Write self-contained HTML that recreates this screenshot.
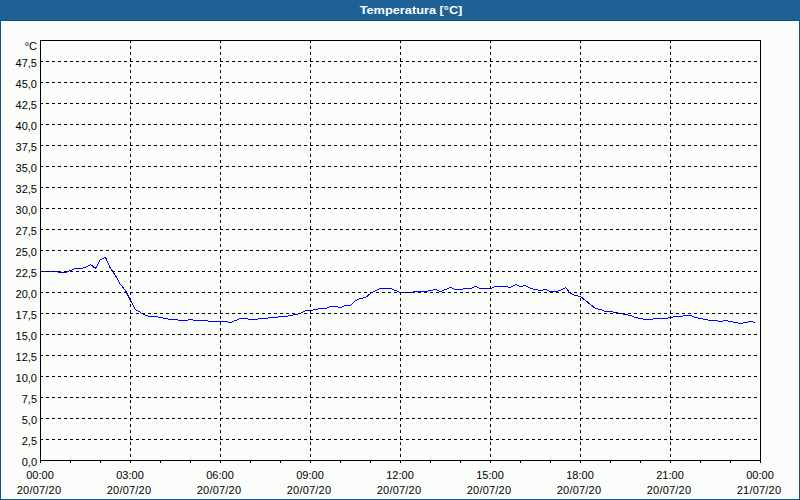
<!DOCTYPE html>
<html><head><meta charset="utf-8"><style>
html,body{margin:0;padding:0;}
body{width:800px;height:500px;overflow:hidden;background:#fbfdfb;position:relative;font-family:"Liberation Sans",sans-serif;font-size:11px;color:#000;}
#hdr{position:absolute;left:0;top:0;}
#ttl{position:absolute;left:0;top:0;width:822px;height:20px;line-height:20px;text-align:center;color:#fff;font-weight:bold;font-size:11px;transform:scaleX(1.16);transform-origin:411px 0;}
#frame{position:absolute;left:0;top:20px;width:798px;height:478px;border:1px solid #0e528c;}
.yl{position:absolute;right:763px;white-space:nowrap;line-height:13px;}
.xl{position:absolute;width:80px;text-align:center;line-height:15px;}
.dt{position:relative;left:-1px;letter-spacing:0.2px;}
svg{position:absolute;left:0;top:0;}
</style></head><body>
<svg id="hdr" width="800" height="20" shape-rendering="crispEdges"><defs><pattern id="dp" width="8" height="20" patternUnits="userSpaceOnUse"><g fill="#1f5fab"><rect x="0" y="0" width="1" height="1"/><rect x="4" y="1" width="1" height="1"/><rect x="2" y="2" width="1" height="1"/><rect x="7" y="2" width="1" height="1"/><rect x="3" y="4" width="1" height="1"/><rect x="0" y="5" width="1" height="1"/><rect x="5" y="5" width="1" height="1"/><rect x="3" y="7" width="1" height="1"/><rect x="7" y="8" width="1" height="1"/><rect x="1" y="9" width="1" height="1"/><rect x="5" y="9" width="1" height="1"/><rect x="0" y="11" width="1" height="1"/><rect x="4" y="11" width="1" height="1"/><rect x="2" y="13" width="1" height="1"/><rect x="6" y="13" width="1" height="1"/><rect x="1" y="15" width="1" height="1"/><rect x="5" y="15" width="1" height="1"/><rect x="0" y="17" width="1" height="1"/><rect x="4" y="17" width="1" height="1"/><rect x="2" y="19" width="1" height="1"/><rect x="6" y="19" width="1" height="1"/></g></pattern></defs><rect width="800" height="20" fill="#1d6293"/><rect width="800" height="20" fill="url(#dp)"/></svg><div id="ttl">Temperatura [°C]</div><div id="frame"></div>

<svg width="800" height="500" viewBox="0 0 800 500" shape-rendering="crispEdges">
<polyline points="40.5,271.5 45.5,271.5 50.5,271.5 55.5,271.5 60.5,272.5 65.5,272.5 70.5,270.5 75.5,268.5 80.5,268.5 85.5,267.5 90.5,264.5 95.5,268.5 100.5,259.5 105.5,257.5 110.5,268.5 115.5,275.5 120.5,284.5 125.5,290.5 130.5,300.5 135.5,309.5 140.5,312.5 145.5,315.5 150.5,316.5 155.5,316.5 160.5,317.5 165.5,318.5 170.5,319.5 175.5,319.5 180.5,320.5 185.5,320.5 190.5,319.5 195.5,320.5 200.5,320.5 205.5,320.5 210.5,321.5 215.5,321.5 220.5,321.5 225.5,321.5 230.5,322.5 235.5,320.5 240.5,318.5 245.5,318.5 250.5,319.5 255.5,319.5 260.5,318.5 265.5,318.5 270.5,317.5 275.5,317.5 280.5,316.5 285.5,316.5 290.5,315.5 295.5,314.5 300.5,313.5 305.5,310.5 310.5,310.5 315.5,309.5 320.5,308.5 325.5,308.5 330.5,306.5 335.5,306.5 340.5,307.5 345.5,305.5 350.5,305.5 355.5,300.5 360.5,298.5 365.5,297.5 370.5,293.5 375.5,290.5 380.5,288.5 385.5,288.5 390.5,288.5 395.5,290.5 400.5,292.5 405.5,292.5 410.5,292.5 415.5,291.5 420.5,291.5 425.5,291.5 430.5,290.5 435.5,289.5 440.5,291.5 445.5,289.5 450.5,287.5 455.5,289.5 460.5,289.5 465.5,288.5 470.5,288.5 475.5,286.5 480.5,288.5 485.5,288.5 490.5,288.5 495.5,286.5 500.5,286.5 505.5,286.5 510.5,287.5 515.5,284.5 520.5,286.5 525.5,285.5 530.5,288.5 535.5,289.5 540.5,290.5 545.5,289.5 550.5,291.5 555.5,291.5 560.5,290.5 565.5,287.5 570.5,293.5 575.5,295.5 580.5,296.5 585.5,300.5 590.5,304.5 595.5,308.5 600.5,309.5 605.5,311.5 610.5,311.5 615.5,312.5 620.5,313.5 625.5,314.5 630.5,315.5 635.5,317.5 640.5,318.5 645.5,319.5 650.5,319.5 655.5,318.5 660.5,318.5 665.5,318.5 670.5,317.5 675.5,316.5 680.5,316.5 685.5,315.5 690.5,315.5 695.5,317.5 700.5,318.5 705.5,319.5 710.5,320.5 715.5,320.5 720.5,321.5 725.5,320.5 730.5,321.5 735.5,322.5 740.5,323.5 745.5,322.5 750.5,321.5 755.5,322.5" fill="none" stroke="#0000ff" stroke-width="1"/>
<line x1="40" y1="439.5" x2="760" y2="439.5" stroke="#000" stroke-dasharray="3 3"/>
<line x1="40" y1="418.5" x2="760" y2="418.5" stroke="#000" stroke-dasharray="3 3"/>
<line x1="40" y1="397.5" x2="760" y2="397.5" stroke="#000" stroke-dasharray="3 3"/>
<line x1="40" y1="376.5" x2="760" y2="376.5" stroke="#000" stroke-dasharray="3 3"/>
<line x1="40" y1="355.5" x2="760" y2="355.5" stroke="#000" stroke-dasharray="3 3"/>
<line x1="40" y1="334.5" x2="760" y2="334.5" stroke="#000" stroke-dasharray="3 3"/>
<line x1="40" y1="313.5" x2="760" y2="313.5" stroke="#000" stroke-dasharray="3 3"/>
<line x1="40" y1="292.5" x2="760" y2="292.5" stroke="#000" stroke-dasharray="3 3"/>
<line x1="40" y1="271.5" x2="760" y2="271.5" stroke="#000" stroke-dasharray="3 3"/>
<line x1="40" y1="250.5" x2="760" y2="250.5" stroke="#000" stroke-dasharray="3 3"/>
<line x1="40" y1="229.5" x2="760" y2="229.5" stroke="#000" stroke-dasharray="3 3"/>
<line x1="40" y1="208.5" x2="760" y2="208.5" stroke="#000" stroke-dasharray="3 3"/>
<line x1="40" y1="187.5" x2="760" y2="187.5" stroke="#000" stroke-dasharray="3 3"/>
<line x1="40" y1="166.5" x2="760" y2="166.5" stroke="#000" stroke-dasharray="3 3"/>
<line x1="40" y1="145.5" x2="760" y2="145.5" stroke="#000" stroke-dasharray="3 3"/>
<line x1="40" y1="124.5" x2="760" y2="124.5" stroke="#000" stroke-dasharray="3 3"/>
<line x1="40" y1="103.5" x2="760" y2="103.5" stroke="#000" stroke-dasharray="3 3"/>
<line x1="40" y1="82.5" x2="760" y2="82.5" stroke="#000" stroke-dasharray="3 3"/>
<line x1="40" y1="61.5" x2="760" y2="61.5" stroke="#000" stroke-dasharray="3 3"/>
<line x1="130.5" y1="40" x2="130.5" y2="460" stroke="#000" stroke-dasharray="3 3"/>
<line x1="220.5" y1="40" x2="220.5" y2="460" stroke="#000" stroke-dasharray="3 3"/>
<line x1="310.5" y1="40" x2="310.5" y2="460" stroke="#000" stroke-dasharray="3 3"/>
<line x1="400.5" y1="40" x2="400.5" y2="460" stroke="#000" stroke-dasharray="3 3"/>
<line x1="490.5" y1="40" x2="490.5" y2="460" stroke="#000" stroke-dasharray="3 3"/>
<line x1="580.5" y1="40" x2="580.5" y2="460" stroke="#000" stroke-dasharray="3 3"/>
<line x1="670.5" y1="40" x2="670.5" y2="460" stroke="#000" stroke-dasharray="3 3"/>
<rect x="40.5" y="40.5" width="720" height="420" fill="none" stroke="#000"/>
<line x1="40.5" y1="460" x2="40.5" y2="463" stroke="#000"/>
<line x1="70.5" y1="460" x2="70.5" y2="463" stroke="#000"/>
<line x1="100.5" y1="460" x2="100.5" y2="463" stroke="#000"/>
<line x1="130.5" y1="460" x2="130.5" y2="463" stroke="#000"/>
<line x1="160.5" y1="460" x2="160.5" y2="463" stroke="#000"/>
<line x1="190.5" y1="460" x2="190.5" y2="463" stroke="#000"/>
<line x1="220.5" y1="460" x2="220.5" y2="463" stroke="#000"/>
<line x1="250.5" y1="460" x2="250.5" y2="463" stroke="#000"/>
<line x1="280.5" y1="460" x2="280.5" y2="463" stroke="#000"/>
<line x1="310.5" y1="460" x2="310.5" y2="463" stroke="#000"/>
<line x1="340.5" y1="460" x2="340.5" y2="463" stroke="#000"/>
<line x1="370.5" y1="460" x2="370.5" y2="463" stroke="#000"/>
<line x1="400.5" y1="460" x2="400.5" y2="463" stroke="#000"/>
<line x1="430.5" y1="460" x2="430.5" y2="463" stroke="#000"/>
<line x1="460.5" y1="460" x2="460.5" y2="463" stroke="#000"/>
<line x1="490.5" y1="460" x2="490.5" y2="463" stroke="#000"/>
<line x1="520.5" y1="460" x2="520.5" y2="463" stroke="#000"/>
<line x1="550.5" y1="460" x2="550.5" y2="463" stroke="#000"/>
<line x1="580.5" y1="460" x2="580.5" y2="463" stroke="#000"/>
<line x1="610.5" y1="460" x2="610.5" y2="463" stroke="#000"/>
<line x1="640.5" y1="460" x2="640.5" y2="463" stroke="#000"/>
<line x1="670.5" y1="460" x2="670.5" y2="463" stroke="#000"/>
<line x1="700.5" y1="460" x2="700.5" y2="463" stroke="#000"/>
<line x1="730.5" y1="460" x2="730.5" y2="463" stroke="#000"/>
<line x1="760.5" y1="460" x2="760.5" y2="463" stroke="#000"/>
</svg>
<div class="yl" style="top:456px">0,0</div>
<div class="yl" style="top:435px">2,5</div>
<div class="yl" style="top:414px">5,0</div>
<div class="yl" style="top:393px">7,5</div>
<div class="yl" style="top:372px">10,0</div>
<div class="yl" style="top:351px">12,5</div>
<div class="yl" style="top:330px">15,0</div>
<div class="yl" style="top:309px">17,5</div>
<div class="yl" style="top:288px">20,0</div>
<div class="yl" style="top:267px">22,5</div>
<div class="yl" style="top:246px">25,0</div>
<div class="yl" style="top:225px">27,5</div>
<div class="yl" style="top:204px">30,0</div>
<div class="yl" style="top:183px">32,5</div>
<div class="yl" style="top:162px">35,0</div>
<div class="yl" style="top:141px">37,5</div>
<div class="yl" style="top:120px">40,0</div>
<div class="yl" style="top:99px">42,5</div>
<div class="yl" style="top:78px">45,0</div>
<div class="yl" style="top:57px">47,5</div>
<div class="yl" style="top:40px">°C</div>
<div class="xl" style="left:0px;top:468px">00:00<br><span class="dt">20/07/20</span></div>
<div class="xl" style="left:90px;top:468px">03:00<br><span class="dt">20/07/20</span></div>
<div class="xl" style="left:180px;top:468px">06:00<br><span class="dt">20/07/20</span></div>
<div class="xl" style="left:270px;top:468px">09:00<br><span class="dt">20/07/20</span></div>
<div class="xl" style="left:360px;top:468px">12:00<br><span class="dt">20/07/20</span></div>
<div class="xl" style="left:450px;top:468px">15:00<br><span class="dt">20/07/20</span></div>
<div class="xl" style="left:540px;top:468px">18:00<br><span class="dt">20/07/20</span></div>
<div class="xl" style="left:630px;top:468px">21:00<br><span class="dt">20/07/20</span></div>
<div class="xl" style="left:720px;top:468px">00:00<br><span class="dt">21/07/20</span></div>
</body></html>
